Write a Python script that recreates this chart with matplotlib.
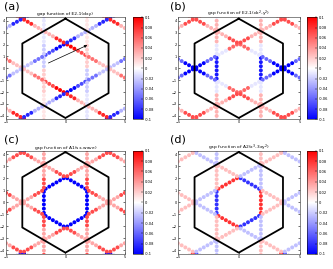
import numpy as np
import matplotlib
matplotlib.use('Agg')
import matplotlib.pyplot as plt

# ---------------- geometry of the Brillouin zone / Fermi surface ----------------
KR = 4 * np.pi / 3                 # BZ vertex radius
FS_R = KR / 2                      # radius of the hexagonal Fermi-surface pockets
G1 = np.array([4 * np.pi / np.sqrt(3), 0.0])
G2 = np.array([2 * np.pi / np.sqrt(3), 2 * np.pi])
pocket_centres = {'G': (0.0, 0.0),
                  'K': (2 * np.pi / np.sqrt(3), 2 * np.pi / 3),
                  'Kp': (2 * np.pi / np.sqrt(3), -2 * np.pi / 3)}
edge_angles = [0, 60, 120, 180, 240, 300]      # outward normal of each pocket edge
dots_per_half_edge = 3

# ---------------- gap values (per half edge: [edge0_a, edge0_b, edge60_a, ...]) ----
gap_a_G = [-0.02, 0.02, 0.07, 0.10, -0.10, -0.07, -0.02, 0.02, 0.07, 0.10, -0.10, -0.07]
gap_a_K = [-0.02, -0.01, 0.03, 0.085, -0.085, -0.03, 0.01, 0.02, 0.055, 0.025, -0.025, -0.055]
gap_a_Kp = [0.01, 0.02, 0.055, 0.025, -0.025, -0.055, -0.02, -0.01, 0.03, 0.085, -0.085, -0.03]

gap_b_G = [-0.09, -0.09, -0.01, 0.06, 0.06, -0.01, -0.09, -0.09, -0.01, 0.06, 0.06, -0.01]
gap_b_K = [-0.01, 0.03, 0.03, 0.07, 0.07, 0.03, 0.03, -0.01, -0.06, -0.10, -0.10, -0.06]
gap_b_Kp = [0.03, -0.01, -0.06, -0.10, -0.10, -0.06, -0.01, 0.03, 0.03, 0.07, 0.07, 0.03]

gap_c_G = [-0.10] * 12
gap_c_K = [0.07, 0.035, 0.035, 0.07, 0.07, 0.035, 0.035, 0.07, 0.07, 0.035, 0.035, 0.07]
gap_c_Kp = [0.035, 0.07, 0.07, 0.035, 0.035, 0.07, 0.07, 0.035, 0.035, 0.07, 0.07, 0.035]

gap_d_G = [0.08, 0.08, -0.08, -0.08, 0.08, 0.08, -0.08, -0.08, 0.08, 0.08, -0.08, -0.08]
gap_d_K = [0.025, 0.025, -0.025, -0.025, 0.025, 0.025, -0.025, -0.025, 0.025, 0.025, -0.025, -0.025]
gap_d_Kp = [0.025, 0.025, -0.025, -0.025, 0.025, 0.025, -0.025, -0.025, 0.025, 0.025, -0.025, -0.025]

panel_labels = ['(a)', '(b)', '(c)', '(d)']
panel_titles = ['gap function of E2-1(dxy)',
                'gap function of E2-1(dx$^{2}$-y$^{2}$)',
                'gap function of A1(s$_{\\pm}$-wave)',
                'gap function of A2(x$^{3}$-3xy$^{2}$)']
panel_gaps = [(gap_a_G, gap_a_K, gap_a_Kp), (gap_b_G, gap_b_K, gap_b_Kp),
              (gap_c_G, gap_c_K, gap_c_Kp), (gap_d_G, gap_d_K, gap_d_Kp)]
cbar_ticks = [-0.1, -0.08, -0.06, -0.04, -0.02, 0, 0.02, 0.04, 0.06, 0.08, 0.1]
cbar_ticklabels = ['-0.1', '-0.08', '-0.06', '-0.04', '-0.02', '0', '0.02', '0.04', '0.06', '0.08', '0.1']
arrow_start = (-1.65, 0.35)
arrow_end = (2.05, 2.05)


def fermi_dots(gaps):
    xs, ys, cs = [], [], []
    for key, vals in zip(['G', 'K', 'Kp'], gaps):
        c0 = np.array(pocket_centres[key])
        for m in range(-2, 3):
            for n in range(-2, 3):
                c = c0 + m * G1 + n * G2
                if abs(c[0]) > 9 or abs(c[1]) > 8:
                    continue
                for k, phi in enumerate(edge_angles):
                    p0 = c + FS_R * np.array([np.cos(np.radians(phi - 30)), np.sin(np.radians(phi - 30))])
                    p1 = c + FS_R * np.array([np.cos(np.radians(phi + 30)), np.sin(np.radians(phi + 30))])
                    nd = 2 * dots_per_half_edge
                    for i in range(nd):
                        t = (i + 0.5) / nd
                        p = p0 + t * (p1 - p0)
                        xs.append(p[0]); ys.append(p[1])
                        cs.append(vals[2 * k + (0 if i < dots_per_half_edge else 1)])
    return np.array(xs), np.array(ys), np.array(cs)


fig = plt.figure(figsize=(3.33, 2.69), dpi=100)
ax_pos = [[0.018, 0.5565, 0.357, 0.379], [0.534, 0.5565, 0.366, 0.379],
          [0.018, 0.0558, 0.357, 0.384], [0.534, 0.0558, 0.366, 0.384]]
cb_x = [0.3985, 0.921, 0.3985, 0.921]
label_pos = [(0.012, 0.995), (0.512, 0.995), (0.012, 0.50), (0.512, 0.50)]

hex_ang = np.radians(np.arange(90, 90 + 361, 60))
hx = KR * np.cos(hex_ang)
hy = KR * np.sin(hex_ang)

for idx in range(4):
    ax = fig.add_axes(ax_pos[idx])
    x, y, c = fermi_dots(panel_gaps[idx])
    sc = ax.scatter(x, y, c=c, cmap='bwr', vmin=-0.1, vmax=0.1, s=8,
                    edgecolors='none', zorder=2)
    ax.plot(hx, hy, color='black', lw=1.3, zorder=3)
    if idx == 0:
        ax.annotate('', xy=arrow_end, xytext=arrow_start,
                    arrowprops=dict(arrowstyle='-|>', color='black', lw=0.5,
                                    mutation_scale=4), zorder=4)
    ax.set_xlim(-5, 5)
    ax.set_ylim(-4.3, 4.3)
    ax.set_xticks([-5, 0, 5])
    ax.set_yticks(np.arange(-4, 5, 1))
    ax.tick_params(labelsize=2.5, direction='in', length=1.5, width=0.4,
                   top=True, right=True, pad=0.6)
    for sp in ax.spines.values():
        sp.set_linewidth(0.5)
        sp.set_color('#555555')
    ax.set_title(panel_titles[idx], fontsize=3.2, pad=1.5)
    p = ax_pos[idx]
    cax = fig.add_axes([cb_x[idx], p[1], 0.032, p[3]])
    cb = fig.colorbar(sc, cax=cax)
    cb.set_ticks(cbar_ticks)
    cb.set_ticklabels(cbar_ticklabels)
    cb.ax.tick_params(labelsize=2.6, direction='in', length=1.2, width=0.3, pad=1)
    cb.outline.set_linewidth(0.4)
    fig.text(label_pos[idx][0], label_pos[idx][1], panel_labels[idx],
             fontsize=8, ha='left', va='top')

fig.savefig('out.png', dpi=100)
